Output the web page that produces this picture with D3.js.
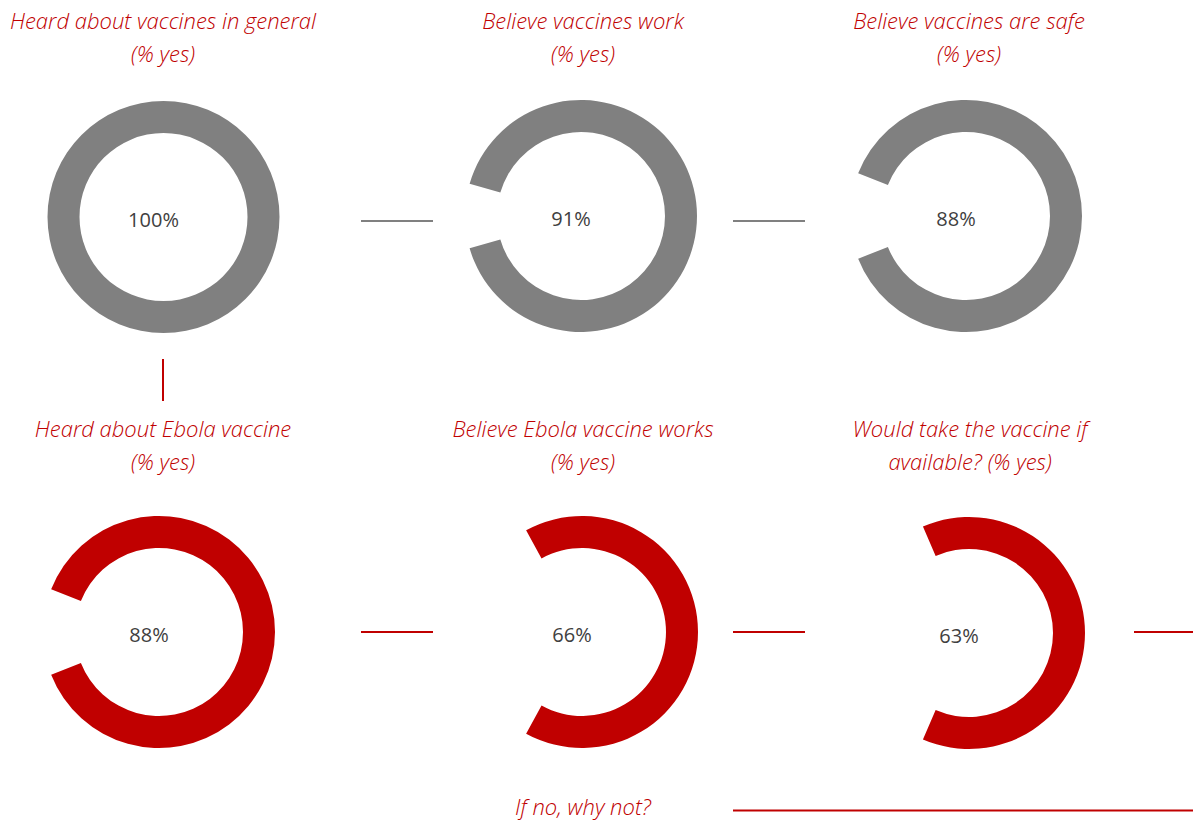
<!DOCTYPE html>
<html>
<head>
<meta charset="utf-8">
<script src="https://cdn.jsdelivr.net/npm/d3@7"></script>
<style>
  html, body { margin: 0; padding: 0; background: #ffffff; }
  svg { display: block; }
</style>
</head>
<body>
<svg id="chart" width="1193" height="822"></svg>
<script>
// Survey results: share answering "yes" to each question
const titleLine1 = [
  "Heard about vaccines in general",
  "Believe vaccines work",
  "Believe vaccines are safe",
  "Heard about Ebola vaccine",
  "Believe Ebola vaccine works",
  "Would take the vaccine if"
];
const titleLine2 = [
  "(% yes)",
  "(% yes)",
  "(% yes)",
  "(% yes)",
  "(% yes)",
  "available? (% yes)"
];
const values = [100, 91, 88, 88, 66, 63];
const group = ["general", "general", "general", "ebola", "ebola", "ebola"];
const footerText = "If no, why not?";

// Layout: donut centres and title anchors for each panel
const centers = [
  [163.5, 217], [581, 216], [966, 216],
  [159, 632], [582, 632], [969, 633]
];
const titleX = [163, 583, 969, 163, 583, 970];
const titleBaseline = [29, 29, 29, 437, 437, 437];
const colors = { general: "#808080", ebola: "#C00000" };
const RED = "#C00000";
const GREY = "#808080";
const outerR = 116, innerR = 84;
const TITLE_SIZE = 22;

const svg = d3.select("#chart");

const arc = d3.arc().innerRadius(innerR).outerRadius(outerR);

values.forEach((v, i) => {
  const [cx, cy] = centers[i];
  // Arc centred on the right; the unfilled share opens at nine o'clock
  const start = Math.PI / 2 - Math.PI * v / 100;
  const pie = d3.pie().sort(null).value(d => d)
    .startAngle(start).endAngle(start + 2 * Math.PI);
  const slices = pie([v, 100 - v]);

  const g = svg.append("g").attr("transform", `translate(${cx},${cy})`);
  g.append("path")
    .attr("d", arc(slices[0]))
    .attr("fill", colors[group[i]]);

  g.append("text")
    .attr("x", -10)
    .attr("y", 2)
    .attr("text-anchor", "middle")
    .attr("dominant-baseline", "central")
    .attr("font-family", "'Open Sans', sans-serif")
    .attr("font-size", 20)
    .attr("fill", "#404040")
    .text(v + "%");

  const t = svg.append("text")
    .attr("text-anchor", "middle")
    .attr("font-family", "'Open Sans', sans-serif")
    .attr("font-style", "italic")
    .attr("font-weight", 300)
    .attr("font-size", TITLE_SIZE)
    .attr("fill", RED);
  t.append("tspan").attr("x", titleX[i]).attr("y", titleBaseline[i]).text(titleLine1[i]);
  t.append("tspan").attr("x", titleX[i]).attr("y", titleBaseline[i] + 33).text(titleLine2[i]);
});

// Connector lines between panels
const connectors = [
  { x1: 361, y1: 221, x2: 433, y2: 221, c: GREY },
  { x1: 733, y1: 221, x2: 805, y2: 221, c: GREY },
  { x1: 163, y1: 359, x2: 163, y2: 401, c: RED },
  { x1: 361, y1: 632, x2: 433, y2: 632, c: RED },
  { x1: 733, y1: 632, x2: 805, y2: 632, c: RED },
  { x1: 1134, y1: 632, x2: 1193, y2: 632, c: RED },
  { x1: 733, y1: 810.5, x2: 1193, y2: 810.5, c: RED }
];
svg.selectAll("line.connector")
  .data(connectors)
  .join("line")
  .attr("class", "connector")
  .attr("x1", d => d.x1).attr("y1", d => d.y1)
  .attr("x2", d => d.x2).attr("y2", d => d.y2)
  .attr("stroke", d => d.c)
  .attr("stroke-width", 2);

svg.append("text")
  .attr("x", 583)
  .attr("y", 815)
  .attr("text-anchor", "middle")
  .attr("font-family", "'Open Sans', sans-serif")
  .attr("font-style", "italic")
  .attr("font-weight", 300)
  .attr("font-size", TITLE_SIZE)
  .attr("fill", RED)
  .text(footerText);
</script>
</body>
</html>
